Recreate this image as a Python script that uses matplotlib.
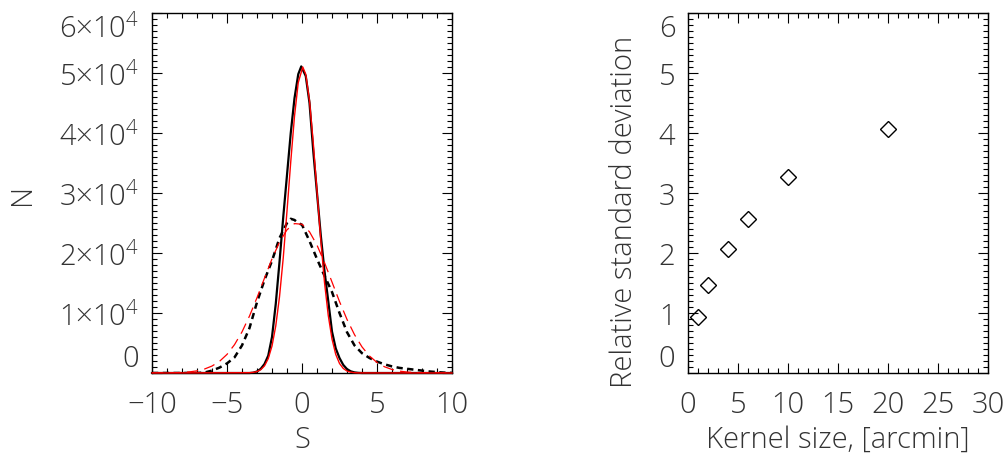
import matplotlib
matplotlib.use("Agg")
import matplotlib.pyplot as plt
from matplotlib.ticker import MultipleLocator, FixedLocator, FixedFormatter

plt.rcParams['font.family'] = ['Open Sans', 'DejaVu Sans']
plt.rcParams['font.weight'] = 'light'
plt.rcParams['axes.labelweight'] = 'light'

# ---------------- data: left panel (histograms of S) ----------------
s_black_solid = [-10, -4.0, -3.5, -3.25, -3.0, -2.75, -2.5, -2.25, -2.0, -1.75, -1.5, -1.25,
                 -1.0, -0.75, -0.5, -0.25, -0.05, 0.25, 0.5, 0.75, 1.0, 1.25, 1.5, 1.75,
                 2.0, 2.25, 2.5, 2.75, 3.0, 3.25, 3.5, 3.75, 4.0, 10]
n_black_solid = [0, 0, 0, 50, 250, 700, 1500, 2900, 6000, 11500, 18500, 26000,
                 33000, 40000, 45800, 49800, 51100, 49500, 45000, 37000, 30000, 23000, 17000, 12000,
                 6900, 4100, 2500, 1350, 650, 280, 100, 30, 0, 0]

s_red_solid = [-10, -3.5, -3.25, -3.0, -2.75, -2.5, -2.25, -2.0, -1.75, -1.5, -1.25, -1.0,
               -0.75, -0.5, -0.25, 0.05, 0.25, 0.5, 0.75, 1.0, 1.25, 1.5, 1.75, 2.0,
               2.25, 2.5, 2.75, 3.0, 3.25, 3.5, 3.75, 10]
n_red_solid = [0, 50, 110, 235, 550, 1190, 2400, 4500, 7840, 12700, 19200, 27000,
               35200, 42800, 48400, 51000, 49800, 45400, 38400, 30300, 22200, 15100, 9600, 5660,
               3100, 1590, 760, 330, 137, 50, 15, 0]

s_black_dashed = [-10, -7.0, -6.5, -6.0, -5.5, -5.0, -4.5, -4.0, -3.5, -3.0, -2.5, -2.0,
                  -1.5, -1.0, -0.75, -0.5, -0.25, 0.0, 0.5, 1.0, 1.5, 2.0, 2.5, 3.0,
                  3.5, 4.0, 4.5, 5.0, 5.5, 6.0, 6.5, 7.0, 7.5, 8.0, 8.5, 9.0, 9.5, 10]
n_black_dashed = [0, 0, 80, 400, 900, 1600, 2600, 4600, 7500, 11800, 15500, 18700,
                  22500, 25000, 25700, 25500, 25000, 24700, 22000, 19000, 16200, 13500, 10000, 6800,
                  4600, 3300, 2500, 1900, 1450, 1100, 850, 700, 550, 400, 250, 150, 60, 20]

s_red_dashed = [-10, -9.5, -9, -8.5, -8, -7.5, -7, -6.5, -6, -5.5, -5, -4.5, -4, -3.5, -3,
                -2.5, -2, -1.5, -1, -0.5, 0, 0.5, 1, 1.5, 2, 2.5, 3, 3.5, 4, 4.5, 5,
                5.5, 6, 6.5, 7, 7.5, 8, 8.5, 9, 9.5, 10]
n_red_dashed = [3, 8, 20, 43, 92, 186, 359, 661, 1160, 1940, 3100, 4720, 6850, 9500, 12550,
                15820, 19020, 21820, 23870, 24900, 24790, 23530, 21310, 18400, 15160, 11910, 8930,
                6390, 4350, 2830, 1760, 1040, 587, 316, 162, 80, 37, 16, 7, 3, 1]

left_yticks = [0, 10000, 20000, 30000, 40000, 50000, 60000]
left_ytick_labels = ['0'] + [r'%d×10$^{\mathdefault{4}}$' % k for k in range(1, 7)]
left_xticks = [-10, -5, 0, 5, 10]
left_xtick_labels = ['−10', '−5', '0', '5', '10']

# ---------------- data: right panel ----------------
kernel_size = [1, 2, 4, 6, 10, 20]
rel_std = [0.93, 1.47, 2.07, 2.56, 3.27, 4.06]
right_yticks = [0, 1, 2, 3, 4, 5, 6]
right_xticks = [0, 5, 10, 15, 20, 25, 30]

FS = 21
TC = '#333333'
fig = plt.figure(figsize=(10.08, 4.64), dpi=100)
ax1 = fig.add_axes([152/1008, 1-374/464, 300/1008, 360/464])
ax2 = fig.add_axes([688/1008, 1-374/464, 300/1008, 360/464])

ax1.plot(s_black_solid, n_black_solid, color='black', lw=1.6, clip_on=False, zorder=3)
ax1.plot(s_black_dashed, n_black_dashed, color='black', lw=1.8, ls=(0, (2.5, 1.8)), zorder=3)
ax1.plot(s_red_dashed, n_red_dashed, color='red', lw=0.9, ls=(0, (9, 5)), zorder=4)
ax1.plot(s_red_solid, n_red_solid, color='red', lw=1.0, clip_on=False, zorder=5)
ax1.set_xlim(-10, 10)
ax1.set_ylim(0, 60000)
ax1.xaxis.set_major_locator(FixedLocator(left_xticks))
ax1.xaxis.set_major_formatter(FixedFormatter(left_xtick_labels))
ax1.xaxis.set_minor_locator(MultipleLocator(1))
ax1.yaxis.set_major_locator(FixedLocator(left_yticks))
ax1.yaxis.set_major_formatter(FixedFormatter(left_ytick_labels))
ax1.yaxis.set_minor_locator(MultipleLocator(1000))
ax1.set_xlabel('S', fontsize=FS, color=TC, labelpad=4)
ax1.set_ylabel('N', fontsize=FS, color=TC, labelpad=16)

ax2.plot(kernel_size, rel_std, ls='none', marker='D', ms=8, mfc='none', mec='black', mew=1.0)
ax2.set_xlim(0, 30)
ax2.set_ylim(0, 6)
ax2.xaxis.set_major_locator(FixedLocator(right_xticks))
ax2.xaxis.set_minor_locator(MultipleLocator(1))
ax2.yaxis.set_major_locator(FixedLocator(right_yticks))
ax2.yaxis.set_minor_locator(MultipleLocator(0.1))
ax2.set_xlabel('Kernel size, [arcmin]', fontsize=FS, color=TC, labelpad=4)
ax2.set_ylabel('Relative standard deviation', fontsize=FS, color=TC)
ax2.yaxis.set_label_coords(-0.165, 0.45)

for ax in (ax1, ax2):
    for sp in ax.spines.values():
        sp.set_linewidth(1.0)
    ax.tick_params(which='both', direction='in', top=True, right=True, width=0.8)
    ax.tick_params(which='major', length=7)
    ax.tick_params(which='minor', length=3.5)
    ax.tick_params(axis='both', labelsize=FS, labelcolor=TC)
    ax.tick_params(axis='x', pad=12)
    ax.tick_params(axis='y', pad=9)
    ylabs = ax.get_yticklabels()
    ylabs[0].set_va('bottom')
    ylabs[-1].set_va('top')

fig.savefig('out.png', dpi=100)
